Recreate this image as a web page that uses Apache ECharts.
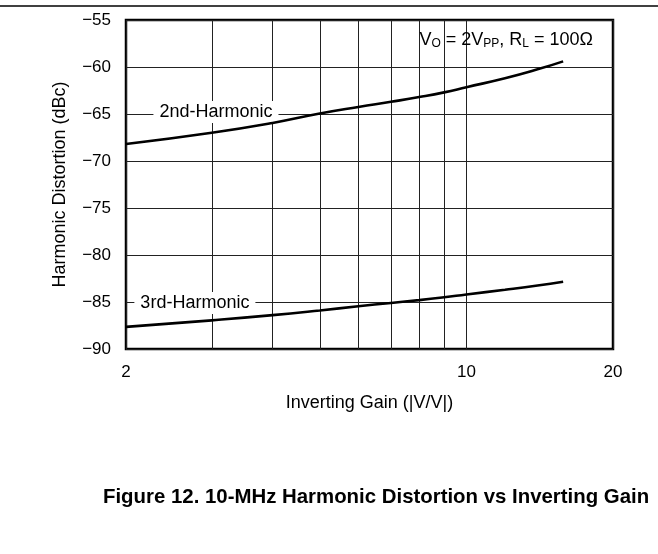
<!DOCTYPE html>
<html>
<head>
<meta charset="utf-8">
<script src="https://cdn.jsdelivr.net/npm/echarts@6/dist/echarts.min.js"></script>
<style>
html,body{margin:0;padding:0;background:#fff;}
#c{width:658px;height:554px;}
</style>
</head>
<body>
<div id="c"></div>
<script>
const gain = [2, 3, 4, 5, 6, 7, 8, 9, 10, 12, 14, 15.8];
const harm2 = [-68.2, -67.0, -65.95, -64.95, -64.25, -63.7, -63.2, -62.7, -62.15, -61.2, -60.25, -59.4];
const harm3 = [-87.65, -86.95, -86.4, -85.9, -85.45, -85.1, -84.8, -84.5, -84.2, -83.7, -83.25, -82.85];
const xTicks = [2, 3, 4, 5, 6, 7, 8, 9, 10, 20];
const xTickLabels = [2, 10, 20];
const yMin = -90, yMax = -55, yStep = 5;

const FONT = 'Liberation Sans, Arial, sans-serif';
const chart = echarts.init(document.getElementById('c'), null, {renderer: 'canvas'});

function pairs(xs, ys) { return xs.map((x, i) => [x, ys[i]]); }

const option = {
  backgroundColor: '#fff',
  animation: false,
  grid: {left: 126, right: 45, top: 20, bottom: 205, show: true, borderColor: '#000', borderWidth: 2.5, backgroundColor: 'transparent'},
  title: {
    text: 'Figure 12. 10-MHz Harmonic Distortion vs Inverting Gain',
    left: 103, top: 487, padding: 0,
    textStyle: {fontFamily: FONT, fontWeight: 'bold', fontSize: 20.4, color: '#000'}
  },
  graphic: [
    {type: 'line', shape: {x1: 0, y1: 6, x2: 658, y2: 6}, style: {stroke: '#000', lineWidth: 1.5}, z: 10}
  ],
  xAxis: {
    type: 'log', logBase: 10, min: 2, max: 20,
    name: 'Inverting Gain (|V/V|)', nameLocation: 'middle', nameGap: 45,
    nameTextStyle: {fontFamily: FONT, fontSize: 18, color: '#000'},
    axisLine: {show: false},
    axisTick: {show: false, customValues: xTicks},
    axisLabel: {customValues: xTickLabels, fontFamily: FONT, fontSize: 17, color: '#000', margin: 15},
    splitLine: {show: true, lineStyle: {color: '#222', width: 1}}
  },
  yAxis: {
    type: 'value', min: yMin, max: yMax, interval: yStep,
    name: 'Harmonic Distortion (dBc)', nameLocation: 'middle', nameGap: 57, nameRotate: 90,
    nameTextStyle: {fontFamily: FONT, fontSize: 18, color: '#000'},
    axisLine: {show: false}, axisTick: {show: false},
    axisLabel: {fontFamily: FONT, fontSize: 17, color: '#000', margin: 15,
      formatter: v => String(v).replace('-', '\u2212')},
    splitLine: {show: true, lineStyle: {color: '#222', width: 1}}
  },
  series: [
    {
      type: 'line', data: pairs(gain, harm2), smooth: 0.5, showSymbol: false,
      lineStyle: {color: '#000', width: 2.6}, z: 5,
      markPoint: {
        symbol: 'circle', symbolSize: 0, silent: true,
        data: [{coord: [3.06, -64.8], label: {show: true, formatter: '2nd-Harmonic', position: 'inside',
          fontFamily: FONT, fontSize: 18, color: '#000', backgroundColor: '#fff', padding: [2, 6]}}]
      }
    },
    {
      type: 'line', data: pairs(gain, harm3), smooth: 0.5, showSymbol: false,
      lineStyle: {color: '#000', width: 2.6}, z: 5,
      markPoint: {
        symbol: 'circle', symbolSize: 0, silent: true,
        data: [{coord: [2.77, -85.1], label: {show: true, formatter: '3rd-Harmonic', position: 'inside',
          fontFamily: FONT, fontSize: 18, color: '#000', backgroundColor: '#fff', padding: [2, 6]}},
          {coord: [12.07, -57.1], label: {show: true, position: 'inside',
          formatter: 'V{s|O} = 2V{s|PP}, R{s|L} = 100\u03A9',
          fontFamily: FONT, fontSize: 18, color: '#000',
          rich: {s: {fontFamily: FONT, fontSize: 12, color: '#000', verticalAlign: 'bottom', padding: [8, 0, 0, 0]}}}}]
      }
    }
  ]
};
chart.setOption(option);
</script>
</body>
</html>
